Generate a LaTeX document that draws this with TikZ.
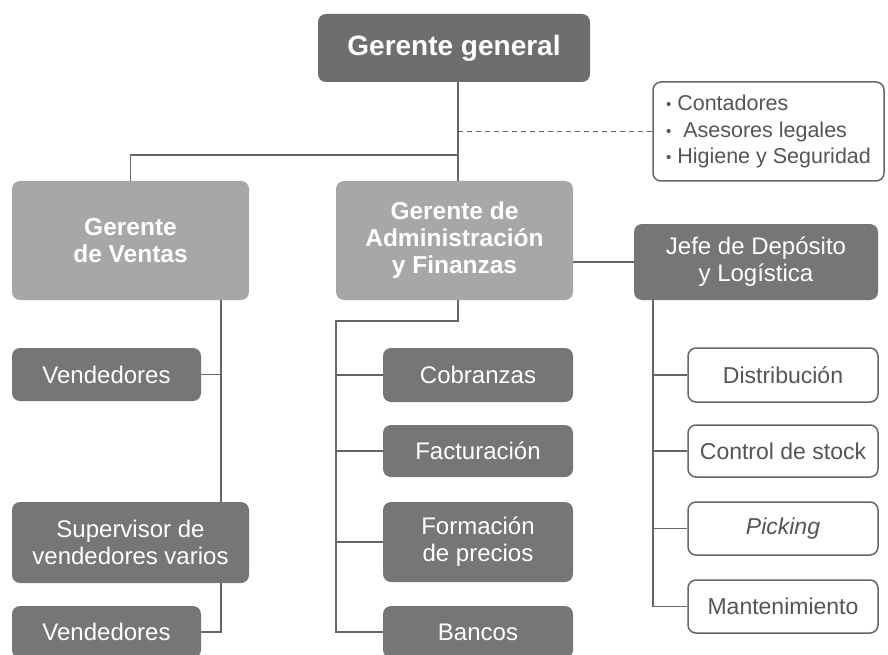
\documentclass[tikz,border=0pt]{standalone}
\usepackage{fontspec}
\setmainfont{Liberation Sans}
\definecolor{darkbox}{HTML}{767676}
\definecolor{topbox}{HTML}{6E6E6E}
\definecolor{lightbox}{HTML}{A7A7A7}
\definecolor{linegray}{HTML}{666666}
\definecolor{textgray}{HTML}{555555}
\newcommand{\dotitem}{{\fontsize{15}{15}\selectfont\raisebox{1pt}{•}}}
\begin{document}
\begin{tikzpicture}[x=1pt,y=-1pt]
\tikzstyle{every node}+=[inner sep=0pt]
\tikzstyle{box}=[rectangle, rounded corners=8pt, align=center]
\tikzstyle{dark}=[box, fill=darkbox, text=white, font=\fontsize{24}{27}\selectfont]
\tikzstyle{light}=[box, fill=lightbox, text=white, font=\bfseries\fontsize{24.5}{27}\selectfont]
\tikzstyle{plain}=[box, fill=white, draw=linegray, line width=1.5pt, text=textgray, font=\fontsize{23}{26}\selectfont]
\tikzstyle{conn}=[linegray, line width=1.6pt]
\useasboundingbox (0,0) rectangle (888,655);
% top level
\node [box, fill=topbox, text=white, font=\bfseries\fontsize{28}{30}\selectfont, minimum width=272, minimum height=68] (gg) at (454,48) {Gerente general};
\node [plain, align=left, font=\fontsize{21.5}{26.5}\selectfont, minimum width=231, minimum height=99] (info) at (768.5,131.5) {\dotitem\ Contadores\\\dotitem\ \ Asesores legales\\\dotitem\ Higiene y Seguridad};
\node [light, minimum width=237, minimum height=119] (ventas) at (130.5,240.5) {Gerente\\de Ventas};
\node [light, minimum width=237, minimum height=119] (admin) at (454.5,240.5) {Gerente de\\Administración\\y Finanzas};
\node [dark, minimum width=244, minimum height=76] (jefe) at (756,262) {Jefe de Depósito\\y Logística};
% ventas
\node [dark, minimum width=189, minimum height=53] (vend1) at (106.5,374.5) {Vendedores};
\node [dark, minimum width=237, minimum height=81] (super) at (130.5,542.5) {Supervisor de\\vendedores varios};
\node [dark, minimum width=189, minimum height=52] (vend2) at (106.5,632) {Vendedores};
% administracion
\node [dark, minimum width=190, minimum height=54] (cobr) at (478,375) {Cobranzas};
\node [dark, minimum width=190, minimum height=52] (fact) at (478,451) {Facturación};
\node [dark, minimum width=190, minimum height=80] (form) at (478,542) {Formación\\de precios};
\node [dark, minimum width=190, minimum height=52] (banc) at (478,632) {Bancos};
% deposito
\node [plain, minimum width=190, minimum height=54] (dist) at (783,375) {Distribución};
\node [plain, minimum width=190, minimum height=52] (ctrl) at (783,451) {Control de stock};
\node [plain, minimum width=190, minimum height=53] (pick) at (783,528.5) {\textit{Picking}};
\node [plain, minimum width=190, minimum height=53] (mant) at (783,606.5) {Mantenimiento};
% connectors
\coordinate (split) at (458,155);
\coordinate (vx) at (221,300);
\coordinate (ax) at (336,321);
\coordinate (jx) at (653,300);
\draw [conn] (gg.south -| split) -- (split) -| (ventas.north);
\draw [conn] (split) -- (admin.north -| split);
\draw [conn, dashed, dash pattern=on 5pt off 4pt, line width=1.2pt] (split |- info.west) -- (info.west);
\draw [conn] (admin.east |- jefe.west) -- (jefe.west);
\draw [conn] (vx) -- (vx |- super.north);
\draw [conn] (vend1.east) -- (vx |- vend1.east);
\draw [conn] (vx |- super.south) |- (vend2.east);
\draw [conn] (admin.south -| split) |- (ax) |- (banc.west);
\foreach \n in {cobr,fact,form}
  \draw [conn] (ax |- \n.west) -- (\n.west);
\draw [conn] (jx) |- (mant.west);
\foreach \n in {dist,ctrl,pick}
  \draw [conn] (jx |- \n.west) -- (\n.west);
\end{tikzpicture}
\end{document}
